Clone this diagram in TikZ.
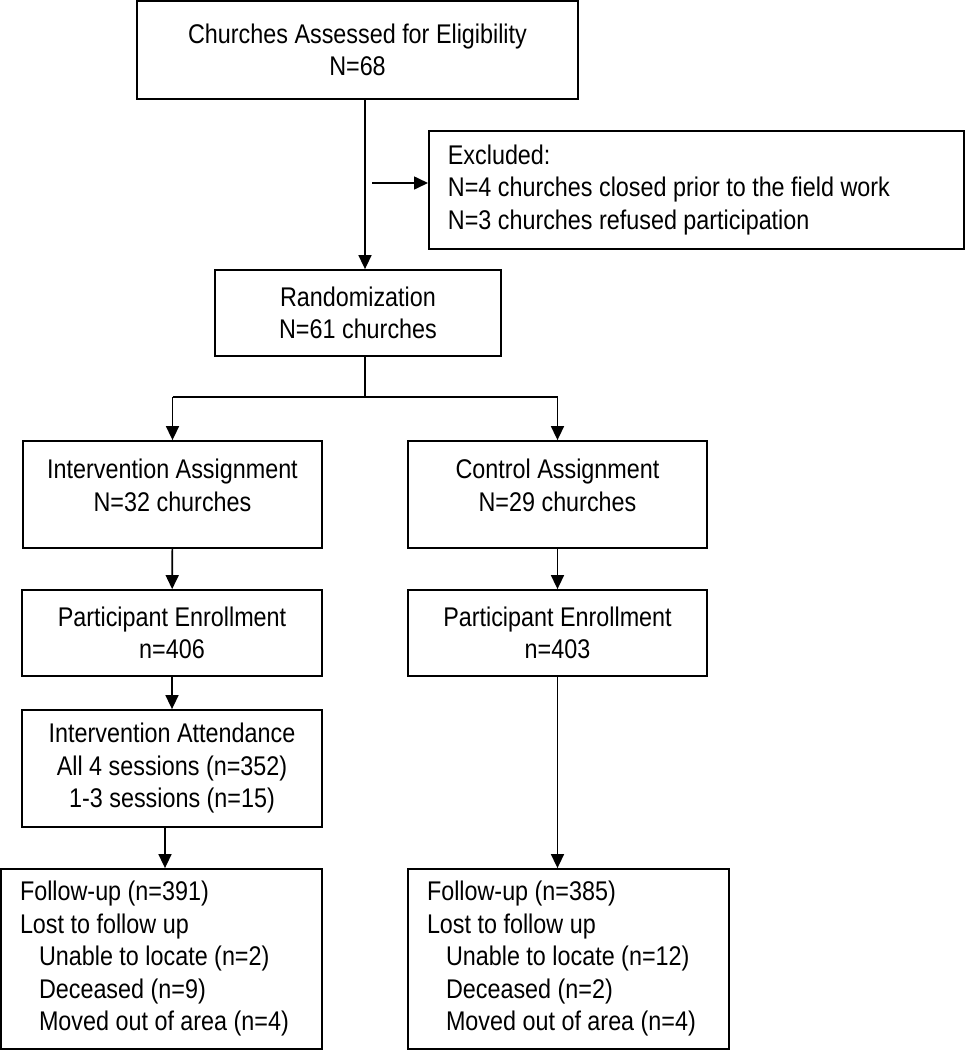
\documentclass[tikz,border=0pt]{standalone}
\usepackage{fontspec}
\setmainfont[FakeStretch=0.865]{Liberation Sans}
\usetikzlibrary{arrows.meta,positioning}

\begin{document}
\begin{tikzpicture}[
    x=1pt, y=-1pt,
    font=\fontsize{27}{32.5}\selectfont,
    block/.style={rectangle, draw, line width=1.8pt, align=center, inner sep=0pt},
    listbox/.style={block, align=flush left, inner xsep=19pt},
    arrow/.style={-{Triangle[width=13pt,length=14pt]}, line width=1.6pt},
    line/.style={line width=1.6pt}
]
\useasboundingbox (0,0) rectangle (965,1050);

\node[block, minimum width=441pt, minimum height=98pt] (assess) at (357.5,50) {Churches Assessed for Eligibility\\N=68};
\node[listbox, anchor=north west, text width=497pt, minimum height=118pt] (excl) at (428,130) {Excluded:\\N=4 churches closed prior to the field work\\N=3 churches refused participation};
\node[block, minimum width=286pt, minimum height=86pt] (rand) at (358,313) {Randomization\\N=61 churches};

\node[block, minimum width=299pt, minimum height=107pt] (inter) at (172.5,494.5) {Intervention Assignment\\N=32 churches\\[-14pt]~};
\node[block, minimum width=299pt, minimum height=107pt] (ctrl) at (557.5,494.5) {Control Assignment\\N=29 churches\\[-14pt]~};

\node[block, minimum width=300pt, minimum height=86pt] (enrI) at (172,633) {Participant Enrollment\\n=406};
\node[block, minimum width=299pt, minimum height=86pt] (enrC) at (557.5,633) {Participant Enrollment\\n=403};

\node[block, minimum width=300pt, minimum height=117pt] (att) at (172,768.5) {Intervention Attendance\\All 4 sessions (n=352)\\1-3 sessions (n=15)};

\node[listbox, text width=283pt, minimum height=180pt] (fuI) at (161.5,959) {Follow-up (n=391)\\Lost to follow up\\\hspace*{19pt}Unable to locate (n=2)\\\hspace*{19pt}Deceased (n=9)\\\hspace*{19pt}Moved out of area (n=4)};
\node[listbox, text width=283pt, minimum height=180pt] (fuC) at (568.5,959) {Follow-up (n=385)\\Lost to follow up\\\hspace*{19pt}Unable to locate (n=12)\\\hspace*{19pt}Deceased (n=2)\\\hspace*{19pt}Moved out of area (n=4)};

% trunk and exclusion branch
\coordinate (spine) at (365,0);
\coordinate (brk) at (372,183);
\coordinate (split) at (365,397);
\coordinate (drop) at (165,0);
\draw[arrow] (assess.south -| spine) -- (rand.north -| spine);
\draw[arrow] (brk) -- (brk -| excl.west);

% randomization split
\draw[line] (rand.south -| split) -- (split);
\draw[line] (inter.north |- split) -- (ctrl.north |- split);
\draw[arrow] (inter.north |- split) -- (inter.north);
\draw[arrow] (ctrl.north |- split) -- (ctrl.north);

% arms
\draw[arrow] (inter) -- (enrI);
\draw[arrow] (enrI) -- (att);
\draw[arrow] (att.south -| drop) -- (fuI.north -| drop);
\draw[arrow] (ctrl) -- (enrC);
\draw[arrow] (enrC.south) -- (enrC.south |- fuC.north);

\end{tikzpicture}
\end{document}
